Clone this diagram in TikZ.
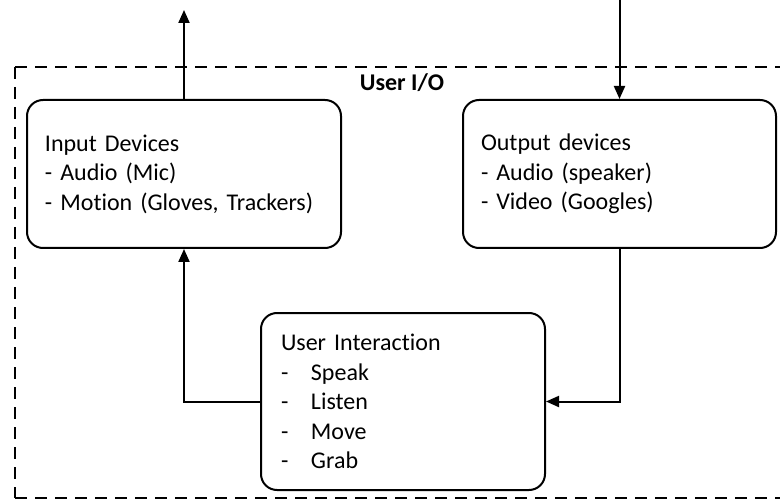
\documentclass[tikz,border=0pt]{standalone}
\usepackage{fontspec}
\setmainfont{Carlito}[Ligatures={NoCommon}]
\usepackage{tikz}
\usetikzlibrary{arrows.meta}
\usetikzlibrary{positioning}

\begin{document}
\begin{tikzpicture}[x=1pt, y=1pt,
    every node/.style={font=\fontsize{24}{29.5}\selectfont},
    box/.style={draw, line width=2pt, rounded corners=16pt, align=left, inner xsep=18pt, inner ysep=0pt},
    link/.style={line width=2pt, -{Triangle[length=13pt, width=11pt]}}]
    \useasboundingbox (0,0) rectangle (780,499);
    \clip (0,0) rectangle (780,499);

    \draw[line width=2pt, dash pattern=on 12pt off 8pt] (15,432) -- (790,432);
    \draw[line width=2pt, dash pattern=on 12pt off 8pt] (15,432) -- (15,1);
    \draw[line width=2pt, dash pattern=on 12pt off 8pt] (15,1) -- (790,1);
    \node (title) at (402,416) {\bfseries User I/O};

    \node (in) [box, text width=278pt, minimum height=148pt] at (184,325)
        {Input Devices\\- Audio (Mic)\\- Motion (Gloves, Trackers)};
    \node (out) [box, text width=277pt, minimum height=148pt] at (619.5,325)
        {Output devices\\- Audio (speaker)\\- Video (Googles)};
    \node (ui) [box, inner xsep=20pt, text width=244pt, minimum height=177pt] at (403,97.5)
        {User Interaction\\\makebox[30pt][l]{-}Speak\\\makebox[30pt][l]{-}Listen\\\makebox[30pt][l]{-}Move\\\makebox[30pt][l]{-}Grab};

    \coordinate (up) at (184,489);
    \coordinate (down) at (619.5,499);

    \draw[link] (in.north) -- (up);
    \draw[link] (down) -- (out.north);
    \draw[link] (ui.west) -| (in.south);
    \draw[link] (out.south) |- (ui.east);
\end{tikzpicture}
\end{document}
